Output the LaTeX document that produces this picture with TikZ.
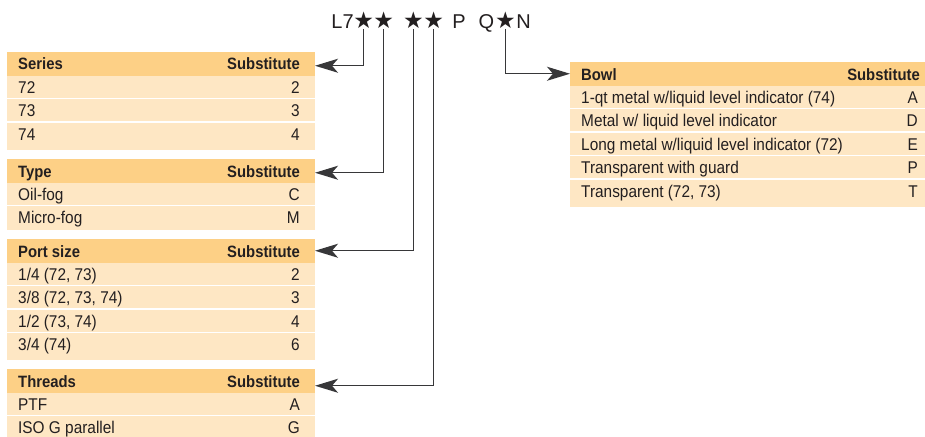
\documentclass[tikz,border=0pt]{standalone}
\usepackage{fontspec}
\setmainfont{Liberation Sans}[FakeStretch=0.905]
\newfontfamily\codefont{Liberation Sans}
\newfontfamily\symfont{DejaVu Sans}
\usetikzlibrary{arrows.meta}
\definecolor{hdrc}{RGB}{253,208,134}
\definecolor{rowc}{RGB}{254,231,196}
\definecolor{inkc}{RGB}{35,31,32}
\definecolor{linec}{RGB}{55,55,57}
\newcommand{\thdr}[7]{%
  \node[hdr,minimum width=#4pt] (#1) at (#2,#3) {};
  \node[blt] (#1l) at ([xshift=11pt,yshift=-18pt]#1.north west) {#5};
  \node[brt] (#1r) at ([xshift=-#7pt,yshift=-18pt]#1.north east) {#6};}
\newcommand{\trow}[8]{%
  \node[rowbox,minimum width=#4pt,minimum height=#5pt] (#1) at (#2,#3) {};
  \node[lt] (#1l) at ([xshift=11pt,yshift=-17.5pt]#1.north west) {#6};
  \node[rt] (#1r) at ([xshift=-#8pt,yshift=-17.5pt]#1.north east) {#7};}
\begin{document}
\begin{tikzpicture}[x=1pt,y=-1pt,
  box/.style={inner sep=0,outer sep=0,anchor=north west},
  hdr/.style={box,fill=hdrc,minimum height=23.5pt},
  rowbox/.style={box,fill=rowc},
  lt/.style={inner sep=0,text=inkc,anchor=base west,font=\fontsize{17}{17}\selectfont},
  rt/.style={inner sep=0,text=inkc,anchor=base east,font=\fontsize{17}{17}\selectfont},
  blt/.style={lt,font=\fontsize{16.4}{16.4}\selectfont\bfseries},
  brt/.style={rt,font=\fontsize{16.4}{16.4}\selectfont\bfseries},
  code/.style={inner sep=0,text=inkc,anchor=base,font=\codefont\fontsize{20}{20}\selectfont},
  star/.style={inner sep=0,text=inkc,anchor=base,font=\symfont\fontsize{23}{23}\selectfont},
  conn/.style={draw=linec,line width=1.3pt,-{Stealth[length=23pt,width=14pt,inset=6pt]}}
]
\useasboundingbox (0,0) rectangle (925,436);
% code line
\node[code] (cL) at (342.5,28.5) {L7};
\node[star] (s1) at (363.7,28.5) {★};
\node[star] (s2) at (383.7,28.5) {★};
\node[star] (s3) at (413.5,28.5) {★};
\node[star] (s4) at (433.7,28.5) {★};
\node[code] (cP) at (459,28.5) {P};
\node[code] (cQ) at (486.5,28.5) {Q};
\node[star] (s5) at (505.5,28.5) {★};
\node[code] (cN) at (523.7,28.5) {N};
% Series
\thdr{series}{7}{52}{308}{Series}{Substitute}{15}
\trow{ser1}{7}{75.5}{308}{22}{72}{2}{15}
\trow{ser2}{7}{99}{308}{22}{73}{3}{15}
\trow{ser3}{7}{122.5}{308}{27}{74}{4}{15}
% Type
\thdr{type}{7}{159}{308}{Type}{Substitute}{15}
\trow{typ1}{7}{182.5}{308}{22}{Oil-fog}{C}{15}
\trow{typ2}{7}{206}{308}{24}{Micro-fog}{M}{15}
% Port size
\thdr{port}{7}{239}{308}{Port size}{Substitute}{15}
\trow{por1}{7}{262.5}{308}{22}{1/4 (72, 73)}{2}{15}
\trow{por2}{7}{286}{308}{22}{3/8 (72, 73, 74)}{3}{15}
\trow{por3}{7}{309.5}{308}{22}{1/2 (73, 74)}{4}{15}
\trow{por4}{7}{333}{308}{27}{3/4 (74)}{6}{15}
% Threads
\thdr{threads}{7}{369}{308}{Threads}{Substitute}{15}
\trow{thr1}{7}{392.5}{308}{22}{PTF}{A}{15}
\trow{thr2}{7}{416}{308}{24}{ISO G parallel}{G}{15}
% Bowl
\thdr{bowl}{570}{62}{355}{Bowl}{Substitute}{5}
\trow{bow1}{570}{85.5}{355}{22}{1-qt metal w/liquid level indicator (74)}{A}{7}
\trow{bow2}{570}{109}{355}{22}{Metal w/ liquid level indicator}{D}{7}
\trow{bow3}{570}{132.5}{355}{22}{Long metal w/liquid level indicator (72)}{E}{7}
\trow{bow4}{570}{156}{355}{22}{Transparent with guard}{P}{7}
\trow{bow5}{570}{179.5}{355}{27.5}{Transparent (72, 73)}{T}{7}
% connectors
\draw[conn] (s1.south) |- ([yshift=-2pt]series.east);
\draw[conn] (s2.south) |- ([yshift=-2pt]type.east);
\draw[conn] (s3.south) |- (port.east);
\draw[conn] (s4.south) |- ([yshift=-5pt]threads.east);
\draw[conn] (s5.south) |- (bowl.west);
\end{tikzpicture}
\end{document}
